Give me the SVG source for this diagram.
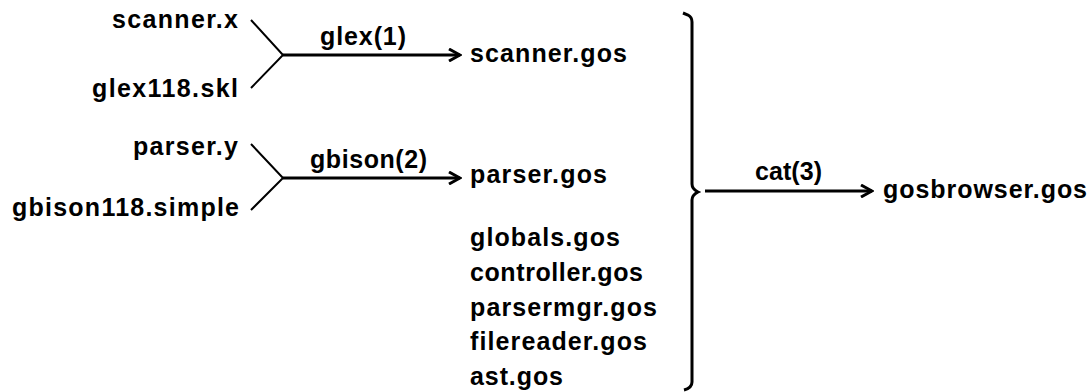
<svg xmlns="http://www.w3.org/2000/svg" width="1091" height="392" viewBox="0 0 1091 392">
  <style>
    .t { font-family: "Liberation Sans", Arial, sans-serif; font-size: 25px; font-weight: bold; fill: #000; }
    .ln { fill: none; stroke: #000; stroke-linecap: butt; stroke-linejoin: miter; }
    .thin { stroke-width: 2; }
    .thick { stroke-width: 3; }
  </style>
  <defs>
    <marker id="arrow" viewBox="0 0 14 14" refX="12" refY="7" markerWidth="14" markerHeight="14" markerUnits="userSpaceOnUse" orient="auto">
      <path d="M1,1 L12,7 L1,13" fill="none" stroke="#000" stroke-width="3"/>
    </marker>
  </defs>
  <rect width="1091" height="392" fill="#fff"/>

  <!-- source files -->
  <g id="scanner-x"><text class="t" x="112" y="28" textLength="126" lengthAdjust="spacing">scanner.x</text></g>
  <g id="glex118-skl"><text class="t" x="92" y="97" textLength="146" lengthAdjust="spacing">glex118.skl</text></g>
  <g id="parser-y"><text class="t" x="133" y="155" textLength="105" lengthAdjust="spacing">parser.y</text></g>
  <g id="gbison118-simple"><text class="t" x="12" y="216" textLength="227" lengthAdjust="spacing">gbison118.simple</text></g>

  <!-- generated and hand-written units -->
  <g id="scanner-gos"><text class="t" x="470" y="62" textLength="157" lengthAdjust="spacing">scanner.gos</text></g>
  <g id="parser-gos"><text class="t" x="470" y="183" textLength="137" lengthAdjust="spacing">parser.gos</text></g>
  <g id="globals-gos"><text class="t" x="470" y="246" textLength="150" lengthAdjust="spacing">globals.gos</text></g>
  <g id="controller-gos"><text class="t" x="470" y="281" textLength="173" lengthAdjust="spacing">controller.gos</text></g>
  <g id="parsermgr-gos"><text class="t" x="470" y="316" textLength="187" lengthAdjust="spacing">parsermgr.gos</text></g>
  <g id="filereader-gos"><text class="t" x="470" y="350" textLength="177" lengthAdjust="spacing">filereader.gos</text></g>
  <g id="ast-gos"><text class="t" x="470" y="385" textLength="93" lengthAdjust="spacing">ast.gos</text></g>

  <!-- final output -->
  <g id="gosbrowser-gos"><text class="t" x="883" y="198" textLength="204" lengthAdjust="spacing">gosbrowser.gos</text></g>

  <g id="connectors">
    <!-- glex step -->
    <path class="ln thin" d="M251,20 L283,55 L251,88"/>
    <path class="ln thick" d="M283,55 L460,55" marker-end="url(#arrow)"/>
    <text class="t" x="320" y="45" textLength="86" lengthAdjust="spacing">glex(1)</text>
    <!-- gbison step -->
    <path class="ln thin" d="M251,144 L283,178 L251,210"/>
    <path class="ln thick" d="M283,178 L460,178" marker-end="url(#arrow)"/>
    <text class="t" x="310" y="168" textLength="117" lengthAdjust="spacing">gbison(2)</text>
    <!-- brace gathering all units -->
    <path class="ln thick" d="M683,13 L688,15 Q692,17 692,22 L692,184 Q692,189 698,192 Q692,195 692,200 L692,382 Q692,388 684,390"/>
    <!-- cat step -->
    <path class="ln thick" d="M705,191 L872,191" marker-end="url(#arrow)"/>
    <text class="t" x="755" y="180" textLength="67" lengthAdjust="spacing">cat(3)</text>
  </g>
</svg>
